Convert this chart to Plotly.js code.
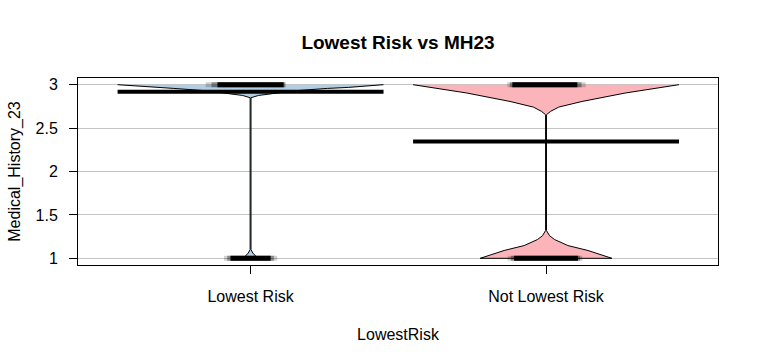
<!DOCTYPE html>
<html>
<head>
<meta charset="utf-8">
<script src="https://cdn.plot.ly/plotly-3.0.1.min.js"></script>
<style>html,body{margin:0;padding:0;background:#fff;}#chart{width:757px;height:363px;}</style>
</head>
<body>
<div id="chart"></div>
<script>
// ---- data ----
var categories = ["Lowest Risk", "Not Lowest Risk"];
var catPos = [1, 2];
var means = [2.92, 2.345];

// density outline (value, half-width in category units)
var lowY = [3.0, 2.969, 2.957, 2.93, 2.893, 2.876, 2.85, 1.10, 1.06, 1.03, 1.0];
var lowW = [0.45, 0.332, 0.26, 0.15, 0.068, 0.027, 0.0015, 0.0015, 0.008, 0.016, 0.025];
var notY = [3.0, 2.904, 2.807, 2.742, 2.692, 2.654, 1.32, 1.26, 1.216, 1.147, 1.09, 1.0];
var notW = [0.45, 0.268, 0.122, 0.043, 0.015, 0.0015, 0.0015, 0.012, 0.029, 0.074, 0.142, 0.223];

// bean lines (observed values) and their extents
var beanVals = [3, 1];
var lowDark = [[-0.112, 0.112], [-0.068, 0.068]];
var lowFade = [[-0.152, 0.12], [-0.09, 0.09]];
var notDark = [[-0.114, 0.106], [-0.108, 0.108]];
var notFade = [[-0.131, 0.134], [-0.13, 0.123]];

var fills = ["#b3cde3", "#fbb4ba"];
var meanHalf = 0.45;

var traces = [];
function violin(c, ys, ws, col) {
  var x = [], y = [];
  for (var i = 0; i < ys.length; i++) { x.push(c - ws[i]); y.push(ys[i]); }
  for (var j = ys.length - 1; j >= 0; j--) { x.push(c + ws[j]); y.push(ys[j]); }
  traces.push({type: "scatter", mode: "lines", x: x, y: y, fill: "toself",
    fillcolor: col, line: {color: "#000", width: 1}, hoverinfo: "skip", showlegend: false});
}
function seg(c, ext, v, col, w) {
  traces.push({type: "scatter", mode: "lines", x: [c + ext[0], c + ext[1]], y: [v, v],
    line: {color: col, width: w}, hoverinfo: "skip", showlegend: false});
}
function beans(c, fade, dark) {
  for (var k = 0; k < beanVals.length; k++) {
    seg(c, fade[k], beanVals[k], "rgba(0,0,0,0.18)", 5);
    seg(c, [(fade[k][0] + dark[k][0]) / 2, (fade[k][1] + dark[k][1]) / 2], beanVals[k], "rgba(0,0,0,0.35)", 5);
    seg(c, dark[k], beanVals[k], "#000", 5);
  }
}
violin(catPos[0], lowY, lowW, fills[0]);
violin(catPos[1], notY, notW, fills[1]);
beans(catPos[0], lowFade, lowDark);
beans(catPos[1], notFade, notDark);
for (var m = 0; m < means.length; m++) {
  seg(catPos[m], [-meanHalf, meanHalf], means[m], "#000", 4);
}

var font = {family: "Liberation Sans, Arial, sans-serif", size: 16, color: "#000"};
var layout = {
  width: 757, height: 363,
  margin: {l: 78, r: 39, t: 78, b: 98, pad: 0},
  paper_bgcolor: "#fff", plot_bgcolor: "#fff",
  font: font,
  showlegend: false,
  title: {text: "<b>Lowest Risk vs MH23</b>", font: {family: font.family, size: 19, color: "#000"},
    x: 0.5, xref: "paper", y: 1 - 42 / 363, yref: "container", yanchor: "middle"},
  xaxis: {range: [0.416, 2.582], tickvals: catPos, ticktext: categories,
    showgrid: false, zeroline: false, showline: true, mirror: true, linecolor: "#000", linewidth: 1,
    ticks: "outside", ticklen: 8, tickcolor: "#000", tickfont: font, ticklabelstandoff: 9,
    title: {text: "LowestRisk", font: font, standoff: 24}, fixedrange: true},
  yaxis: {range: [0.923, 3.077], tickvals: [1, 1.5, 2, 2.5, 3], ticktext: ["1", "1.5", "2", "2.5", "3"],
    showgrid: true, gridcolor: "#c4c4c4", gridwidth: 1, zeroline: false,
    showline: true, mirror: true, linecolor: "#000", linewidth: 1,
    ticks: "outside", ticklen: 8, tickcolor: "#000", tickfont: font, ticklabelstandoff: 8,
    title: {text: "Medical_History_23", font: font, standoff: 10}, fixedrange: true}
};
Plotly.newPlot("chart", traces, layout, {displayModeBar: false, staticPlot: true});
</script>
</body>
</html>
